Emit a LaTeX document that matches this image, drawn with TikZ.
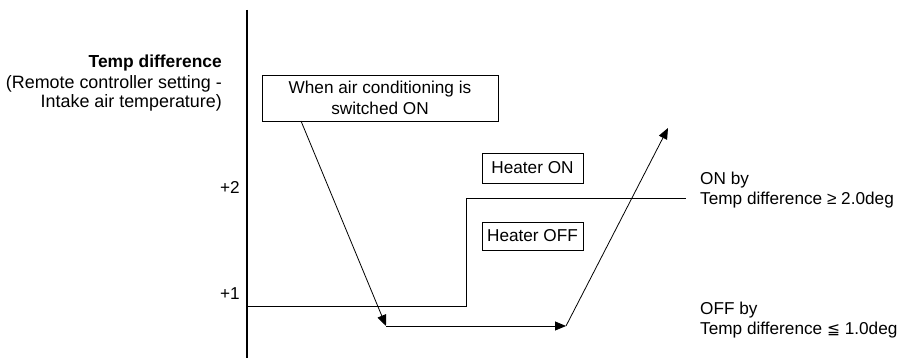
\documentclass[tikz,border=0pt]{standalone}
\usepackage{fontspec}
\setmainfont{Liberation Sans}
\newfontfamily\symfont{DejaVu Sans}
\usepackage{tikz}
\usetikzlibrary{arrows.meta,positioning}
\tikzset{
  lbl/.style={font=\fontsize{17.2}{19.5}\selectfont,inner sep=0pt},
  axlbl/.style={font=\fontsize{17.9}{19.5}\selectfont,inner sep=0pt},
  statebox/.style={draw,line width=0.8pt,font=\fontsize{17.2}{21}\selectfont,inner sep=2pt,align=center},
  flow/.style={line width=0.8pt,-{Triangle[length=11pt,width=9pt]}},
}
\begin{document}
\begin{tikzpicture}[x=1pt,y=-1pt]
  \useasboundingbox (0,0) rectangle (898,358);
  % axis
  \coordinate (axtop) at (247,10);
  \coordinate (axbot) at (247,358);
  \draw[line width=2pt] (axtop) -- (axbot);
  \node[axlbl,anchor=base east,font=\fontsize{17.4}{19.5}\selectfont\bfseries] (ytitle) at (222,68) {Temp difference};
  \node[axlbl,anchor=north east,align=right] (ysub) at (222,75) {(Remote controller setting -\\Intake air temperature)};
  \node[lbl,anchor=east] (ltwo) at (240,187) {+2};
  \node[lbl,anchor=east] (lone) at (240,294) {+1};
  % threshold line
  \coordinate (h0) at (247,306);
  \coordinate (h1) at (466,306);
  \coordinate (h2) at (466,198);
  \coordinate (h3) at (686,198);
  \draw[line width=0.8pt] (h0) -- (h1) -- (h2) -- (h3);
  \node[lbl,anchor=west,align=left] (onby) at (700,190) {ON by\\Temp difference ≥ 2.0deg};
  \node[lbl,anchor=west,align=left] (offby) at (700,320) {OFF by\\Temp difference {\symfont\fontsize{15.5}{19.5}\selectfont ≦} 1.0deg};
  % boxes
  \node[statebox,minimum width=236pt,minimum height=46pt] (start) at (380,98) {When air conditioning is\\switched ON};
  \node[statebox,minimum width=101pt,minimum height=30pt] (hon) at (532.5,168) {Heater ON};
  \node[statebox,minimum width=101pt,minimum height=28pt] (hoff) at (532.5,236) {Heater OFF};
  % temperature path
  \coordinate (p0) at (301,121);
  \coordinate (p1) at (386,326);
  \coordinate (p2) at (566,326);
  \coordinate (p3) at (668,128);
  \draw[flow] (p0) -- (p1);
  \draw[flow] (p1) -- (p2);
  \draw[flow] (p2) -- (p3);
\end{tikzpicture}
\end{document}
